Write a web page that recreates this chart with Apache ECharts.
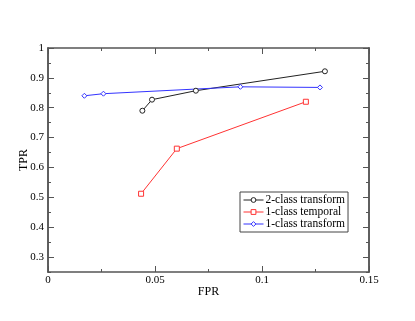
<!DOCTYPE html>
<html><head><meta charset="utf-8">
<script src="https://cdn.jsdelivr.net/npm/echarts@6/dist/echarts.min.js"></script>
<style>html,body{margin:0;padding:0;background:#fff}#c{width:415px;height:321px}</style>
</head><body><div id="c"></div>
<script>
var seriesNames = ['2-class transform', '1-class temporal', '1-class transform'];
var twoClassFPR = [0.0441, 0.0486, 0.0691, 0.1294];
var twoClassTPR = [0.790, 0.827, 0.857, 0.922];
var oneTemporalFPR = [0.0435, 0.0602, 0.1205];
var oneTemporalTPR = [0.512, 0.663, 0.820];
var oneTransformFPR = [0.0170, 0.0259, 0.0899, 0.1271];
var oneTransformTPR = [0.840, 0.847, 0.870, 0.868];
var yMajorTicks = [0.3, 0.4, 0.5, 0.6, 0.7, 0.8, 0.9, 1.0];
var yMinorTicks = [0.25, 0.35, 0.45, 0.55, 0.65, 0.75, 0.85, 0.95];

function pairs(xs, ys){ return xs.map(function(x,i){ return [x, ys[i]]; }); }
var font = 'Liberation Serif, Times New Roman, serif';
var axisLineStyle = {color:'#555', width:1.5};
function yAx(pos, ticks, len, labels){
  return {type:'value', min:0.25, max:1, position:pos, gridIndex:0,
    axisLine:{show:true, lineStyle:axisLineStyle},
    axisTick:{show:true, inside:true, length:len, customValues:ticks, lineStyle:{color:'#555', width:1}},
    axisLabel:{show:labels, customValues:ticks, color:'#000', fontFamily:font, fontSize:11, margin:4,
      formatter:function(v){ return (Math.round(v*10)/10).toString(); }},
    splitLine:{show:false},
    name: labels ? 'TPR' : '', nameLocation:'middle', nameGap:18, nameMoveOverlap:false,
    nameTextStyle:{fontFamily:font, fontSize:12, color:'#000'}};
}
function xAx(pos, labels){
  return {type:'value', min:0, max:0.15, interval:0.05, position:pos, gridIndex:0,
    axisLine:{show:true, lineStyle:axisLineStyle},
    axisTick:{show:true, inside:true, length:6, lineStyle:{color:'#555', width:1}},
    minorTick:{show:true, splitNumber:2, length:3, lineStyle:{color:'#555', width:1}},
    axisLabel:{show:labels, color:'#000', fontFamily:font, fontSize:11, margin:3,
      formatter:function(v){ return v===0?'0':(Math.round(v*100)/100).toString(); }},
    splitLine:{show:false},
    name: labels ? 'FPR' : '', nameLocation:'middle', nameGap:14, nameMoveOverlap:false,
    nameTextStyle:{fontFamily:font, fontSize:12, color:'#000'}};
}
var chart = echarts.init(document.getElementById('c'), null, {renderer:'canvas'});
chart.setOption({
  backgroundColor:'#fff',
  animation:false,
  grid:{left:48, top:48, right:46, bottom:49, show:false},
  xAxis:[xAx('bottom', true), xAx('top', false)],
  yAxis:[yAx('left', yMajorTicks, 6, true), yAx('left', yMinorTicks, 3, false),
         yAx('right', yMajorTicks, 6, false), yAx('right', yMinorTicks, 3, false)],
  legend:{left:240, top:192, orient:'vertical', backgroundColor:'#fff', borderColor:'#444', borderWidth:1,
    padding:[2,3,2,3], itemGap:0, itemWidth:20, itemHeight:6,
    lineStyle:{width:1}, itemStyle:{borderWidth:1},
    textStyle:{fontFamily:font, fontSize:11.5, color:'#000', padding:[0,0,0,-3]},
    data:seriesNames.map(function(n){ return {name:n}; })},
  series:[
    {name:seriesNames[0], type:'line', data:pairs(twoClassFPR, twoClassTPR), symbol:'circle', symbolSize:5,
      itemStyle:{color:'#fff', borderColor:'#222', borderWidth:1}, lineStyle:{color:'#222', width:1}, color:'#222'},
    {name:seriesNames[1], type:'line', data:pairs(oneTemporalFPR, oneTemporalTPR), symbol:'rect', symbolSize:5,
      itemStyle:{color:'#fff', borderColor:'#ff3333', borderWidth:1}, lineStyle:{color:'#ff3333', width:1}, color:'#ff3333'},
    {name:seriesNames[2], type:'line', data:pairs(oneTransformFPR, oneTransformTPR), symbol:'diamond', symbolSize:5,
      itemStyle:{color:'#fff', borderColor:'#3333ff', borderWidth:1}, lineStyle:{color:'#3333ff', width:1}, color:'#3333ff'}
  ]
});
</script></body></html>
